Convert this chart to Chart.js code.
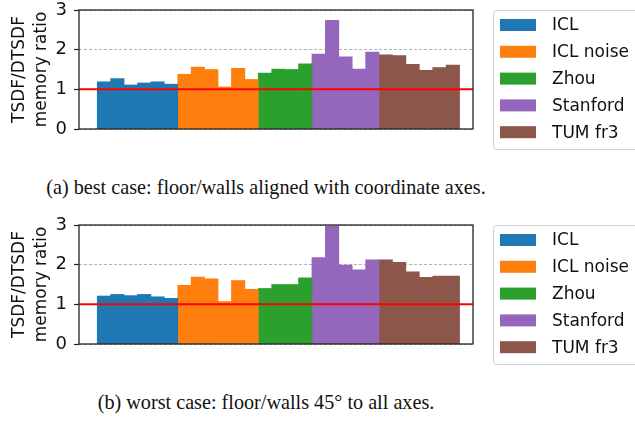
<!DOCTYPE html>
<html>
<head>
<meta charset="utf-8">
<script src="https://cdn.jsdelivr.net/npm/chart.js@4.4.1/dist/chart.umd.min.js"></script>
<style>
  body { margin: 0; background: #fff; }
  #wrap { position: relative; width: 635px; height: 421px; overflow: hidden; }
  .plot { position: absolute; left: 0; width: 635px; height: 150px; }
  .cap { position: absolute; left: 0; width: 532px; text-align: center;
         font-family: "Liberation Serif", "Times New Roman", serif; font-size: 20.2px;
         line-height: 24px; color: #111; }
</style>
</head>
<body>
<div id="wrap">
  <div class="plot" style="top:0"><canvas id="bestChart" width="635" height="150"></canvas></div>
  <div class="cap" style="top:175px">(a) best case: floor/walls aligned with coordinate axes.</div>
  <div class="plot" style="top:215px"><canvas id="worstChart" width="635" height="150"></canvas></div>
  <div class="cap" style="top:390px">(b) worst case: floor/walls 45° to all axes.</div>
</div>
<script>
var groups = ['ICL', 'ICL noise', 'Zhou', 'Stanford', 'TUM fr3'];
var colors = ['#1f77b4', '#ff7f0e', '#2ca02c', '#9467bd', '#8c564b'];
var yTicks = [0, 1, 2, 3];
var refRatio = 1;

// (a) best case
var bestICL = [1.19, 1.27, 1.11, 1.16, 1.19, 1.13];
var bestICLNoise = [1.38, 1.56, 1.50, 1.06, 1.53, 1.25];
var bestZhou = [1.41, 1.51, 1.50, 1.64];
var bestStanford = [1.89, 2.74, 1.82, 1.51, 1.94];
var bestTUM = [1.87, 1.85, 1.63, 1.48, 1.55, 1.61];

// (b) worst case
var worstICL = [1.21, 1.25, 1.22, 1.25, 1.19, 1.15];
var worstICLNoise = [1.48, 1.69, 1.64, 1.07, 1.60, 1.38];
var worstZhou = [1.40, 1.50, 1.50, 1.67];
var worstStanford = [2.18, 2.97, 1.99, 1.87, 2.12];
var worstTUM = [2.12, 2.06, 1.82, 1.68, 1.71, 1.71];

function buildDatasets(series) {
    var idx = 0;
    return series.map(function (vals, g) {
        var pts = vals.map(function (v) { return { x: idx++, y: v }; });
        return {
            label: groups[g],
            data: pts,
            backgroundColor: colors[g],
            borderWidth: 0,
            barPercentage: 1,
            categoryPercentage: 1,
            grouped: false
        };
    });
}

var framePlugin = {
    id: 'frame',
    afterDatasetsDraw: function (chart) {
        var ctx = chart.ctx, a = chart.chartArea;
        var y = chart.scales.y.getPixelForValue(refRatio);
        ctx.save();
        ctx.strokeStyle = '#ff0000';
        ctx.lineWidth = 2;
        ctx.beginPath();
        ctx.moveTo(a.left, y);
        ctx.lineTo(a.right, y);
        ctx.stroke();
        ctx.strokeStyle = '#222';
        ctx.lineWidth = 1.3;
        ctx.strokeRect(a.left, a.top, a.right - a.left, a.bottom - a.top);
        ctx.restore();
    },
    afterDraw: function (chart) {
        var ctx = chart.ctx, a = chart.chartArea;
        var bx = a.right + 20, by = a.top, bw = 150, bh = 139;
        ctx.save();
        ctx.fillStyle = 'rgba(255,255,255,0.8)';
        ctx.strokeStyle = '#d0d0d0';
        ctx.lineWidth = 1;
        ctx.beginPath();
        ctx.roundRect(bx + 0.5, by + 0.5, bw, bh, 3);
        ctx.fill();
        ctx.stroke();
        ctx.font = '17px "DejaVu Sans"';
        ctx.textBaseline = 'middle';
        chart.data.datasets.forEach(function (ds, i) {
            var cy = by + 15 + i * 26.8;
            ctx.fillStyle = ds.backgroundColor;
            ctx.fillRect(bx + 7, cy - 6, 36, 12);
            ctx.fillStyle = '#111';
            ctx.fillText(ds.label, bx + 59, cy + 1);
        });
        ctx.restore();
    }
};

function makeChart(id, series) {
    var ctx = document.getElementById(id).getContext('2d');
    return new Chart(ctx, {
        type: 'bar',
        data: { datasets: buildDatasets(series) },
        plugins: [framePlugin],
        options: {
            responsive: false,
            animation: false,
            layout: { padding: { top: 10, right: 162, bottom: 21, left: 0 } },
            scales: {
                x: {
                    type: 'linear',
                    offset: false,
                    min: -1.86,
                    max: 27.5,
                    display: false
                },
                y: {
                    min: 0,
                    max: 3,
                    afterBuildTicks: function (scale) {
                        scale.ticks = yTicks.map(function (v) { return { value: v }; });
                    },
                    afterFit: function (scale) {
                        scale.width = 79;
                        scale.paddingTop = 0;
                        scale.paddingBottom = 0;
                    },
                    ticks: {
                        padding: 7,
                        color: '#111',
                        font: { family: 'DejaVu Sans', size: 18 }
                    },
                    grid: {
                        color: '#a0a0a0',
                        lineWidth: 0.8,
                        tickColor: '#222',
                        tickLength: 5,
                        tickWidth: 1.2,
                        tickBorderDash: []
                    },
                    border: { display: false, dash: [3, 2] },
                    title: {
                        display: true,
                        text: ['TSDF/DTSDF', 'memory ratio'],
                        color: '#111',
                        padding: { top: 9.5, bottom: 0 },
                        font: { family: 'DejaVu Sans', size: 17, lineHeight: 1.24 }
                    }
                }
            },
            plugins: {
                legend: { display: false },
                tooltip: { enabled: false }
            }
        }
    });
}

makeChart('bestChart', [bestICL, bestICLNoise, bestZhou, bestStanford, bestTUM]);
makeChart('worstChart', [worstICL, worstICLNoise, worstZhou, worstStanford, worstTUM]);
</script>
</body>
</html>
